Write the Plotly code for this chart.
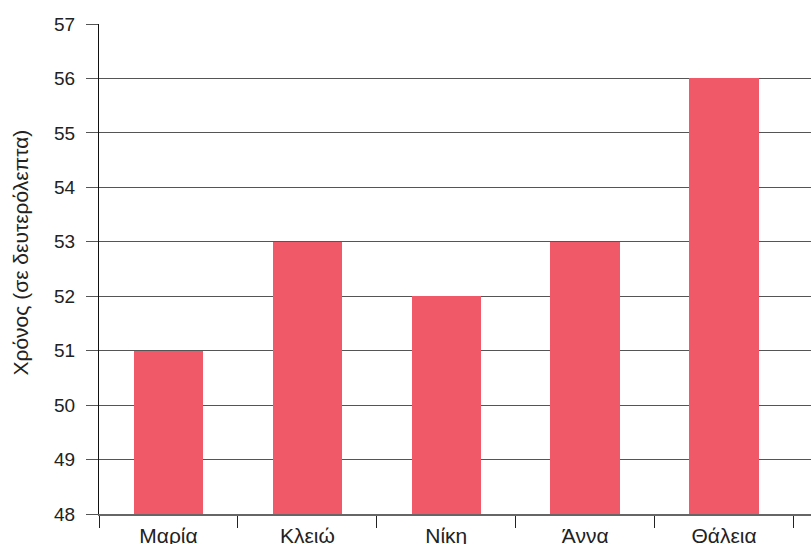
import plotly.graph_objects as go

names = ["Μαρία", "Κλειώ", "Νίκη", "Άννα", "Θάλεια"]
times = [51, 53, 52, 53, 56]
y_title = "Χρόνος (σε δευτερόλεπτα)"

fig = go.Figure(go.Bar(x=names, y=times, width=0.5, marker_color="#F05A68",
                       marker_line_width=0))

W, H = 811, 544
ml, mr, mt, mb = 98.5, 0, 24, 30
fig.update_layout(
    width=W, height=H,
    margin=dict(l=ml, r=mr, t=mt, b=mb, pad=0),
    plot_bgcolor="white", paper_bgcolor="white",
    font=dict(family="Liberation Sans, Arial, sans-serif", size=20, color="#222"),
    showlegend=False,
    bargap=0,
)
fig.update_xaxes(
    type="category", range=[-0.5, 4.626], tickson="boundaries",
    ticks="outside", ticklen=12, tickcolor="#222", tickwidth=1,
    showline=True, linecolor="#666", linewidth=1.5, showgrid=False,
    tickfont=dict(size=21), ticklabelstandoff=2, automargin=False,
)
fig.update_yaxes(
    range=[48, 57], dtick=1, tick0=48,
    showgrid=True, gridcolor="#555", gridwidth=1,
    ticks="outside", ticklen=12, tickcolor="#555", tickwidth=1,
    showline=True, linecolor="#111", linewidth=1, zeroline=False,
    tickfont=dict(size=19), ticklabelstandoff=7, automargin=False,
)
plot_h = H - mt - mb
plot_w = W - ml - mr
fig.add_annotation(
    text=y_title, xref="paper", yref="paper",
    x=(19 - ml) / plot_w, y=(H - mb - 253) / plot_h,
    textangle=-90, showarrow=False, xanchor="center", yanchor="middle",
    font=dict(size=21),
)
fig.write_html("out.html", config={"displayModeBar": False},
               post_script="document.body.style.margin='0';")
